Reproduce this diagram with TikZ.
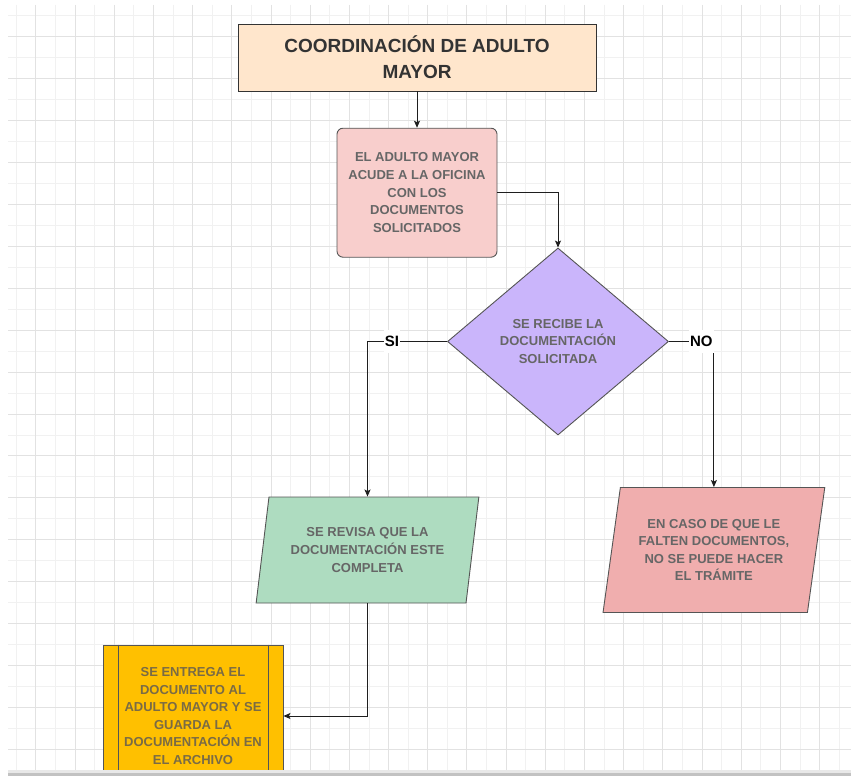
\documentclass[tikz,border=0pt]{standalone}
\usepackage{fontspec}
\setmainfont{Liberation Sans}
\usetikzlibrary{shapes.geometric,arrows.meta}

\definecolor{gridminor}{HTML}{F1F1F1}
\definecolor{gridmajor}{HTML}{E2E2E2}
\definecolor{titlefill}{HTML}{FFE6CC}
\definecolor{arrivefill}{HTML}{F8CECC}
\definecolor{decisionfill}{HTML}{CAB5FB}
\definecolor{reviewfill}{HTML}{AEDCC0}
\definecolor{missingfill}{HTML}{F0AEAE}
\definecolor{deliverfill}{HTML}{FFC000}
\definecolor{edgegray}{HTML}{555555}
\definecolor{textgray}{HTML}{666666}
\definecolor{textdark}{HTML}{333333}
\definecolor{textolive}{HTML}{7A6B45}
\definecolor{linecol}{HTML}{1E1E1E}

\tikzset{
  boxtext/.style={font=\bfseries\fontsize{13}{17.6}\selectfont, text=textgray, align=center, inner sep=0pt},
  titlebox/.style={draw=textdark, line width=0.9pt, fill=titlefill, minimum width=358pt, minimum height=67pt,
    font=\bfseries\fontsize{19}{26}\selectfont, text=textdark, align=center, inner sep=0pt},
  arrivebox/.style={boxtext, draw=edgegray, line width=0.9pt, fill=arrivefill, rounded corners=6pt,
    minimum width=160pt, minimum height=129pt},
  decision/.style={boxtext, diamond, draw=edgegray, line width=0.9pt, fill=decisionfill,
    minimum width=221pt, minimum height=187pt},
  parabox/.style={boxtext, trapezium, trapezium stretches=true, draw=edgegray, line width=0.9pt,
    trapezium left angle=77.3, trapezium right angle=102.7},
  deliverbox/.style={boxtext, text=textolive, draw=edgegray, line width=0.9pt, fill=deliverfill,
    minimum width=180pt, minimum height=142pt},
  conn/.style={draw=linecol, line width=0.9pt, -{Stealth[length=7pt,width=6pt,inset=1.5pt]}},
  branch/.style={fill=white, text=black, font=\bfseries\fontsize{15}{18}\selectfont,
    inner xsep=1pt, inner ysep=0pt, minimum height=23pt},
}

\begin{document}
\begin{tikzpicture}[x=1pt,y=-1pt]
\useasboundingbox (0,0) rectangle (851,776);
\clip (0,0) rectangle (851,776);
\fill[white] (0,0) rectangle (851,776);

% background grid, darker line every second step
\foreach \k in {0,2,...,42} \draw[gridminor, line width=1pt] ({16.4+19.59*\k},5) -- ({16.4+19.59*\k},770);
\foreach \k in {0,2,...,34} \draw[gridminor, line width=1pt] (8,{16+20.95*\k}) -- (851,{16+20.95*\k});
\foreach \k in {1,3,...,41} \draw[gridmajor, line width=1pt] ({16.4+19.59*\k},5) -- ({16.4+19.59*\k},770);
\foreach \k in {1,3,...,35} \draw[gridmajor, line width=1pt] (8,{16+20.95*\k}) -- (851,{16+20.95*\k});

% process steps
\node[titlebox] (t) at (417,57.5) {COORDINACIÓN DE ADULTO\\MAYOR};
\node[arrivebox] (a) at (417,192.7) {EL ADULTO MAYOR\\ACUDE A LA OFICINA\\CON LOS\\DOCUMENTOS\\SOLICITADOS};
\node[decision] (d) at (558,341.5) {SE RECIBE LA\\DOCUMENTACIÓN\\SOLICITADA};
\node[parabox, fill=reviewfill, minimum width=223pt, minimum height=106pt] (g) at (367.5,550)
  {SE REVISA QUE LA\\DOCUMENTACIÓN ESTE\\COMPLETA};
\node[parabox, fill=missingfill, minimum width=222pt, minimum height=125pt] (r) at (713.9,550)
  {EN CASO DE QUE LE\\FALTEN DOCUMENTOS,\\NO SE PUEDE HACER\\EL TRÁMITE};
\node[deliverbox] (y) at (193,716) {SE ENTREGA EL\\DOCUMENTO AL\\ADULTO MAYOR Y SE\\GUARDA LA\\DOCUMENTACIÓN EN\\EL ARCHIVO};
\draw[edgegray, line width=0.9pt] ([xshift=15.5pt]y.north west) -- ([xshift=15.5pt]y.south west);
\draw[edgegray, line width=0.9pt] ([xshift=-15.5pt]y.north east) -- ([xshift=-15.5pt]y.south east);

% connectors
\draw[conn] (t.south) -- (a.north);
\draw[conn] (a.east) -| (d.north);
\draw[conn] (d.west) -| (g.north -| g.center);
\draw[conn] (d.east) -| (r.north -| r.center);
\draw[conn] (g.south -| g.center) |- (y.east);
\node[branch] (si) at (392,341.5) {SI};
\node[branch] (no) at (701.3,341.5) {NO};

% window scroll bar along the bottom
\fill[white] (0,770) rectangle (851,776);
\fill[black!9] (8,770) rectangle (851,772.5);
\fill[black!24] (8,772.5) rectangle (851,776);
\end{tikzpicture}
\end{document}
